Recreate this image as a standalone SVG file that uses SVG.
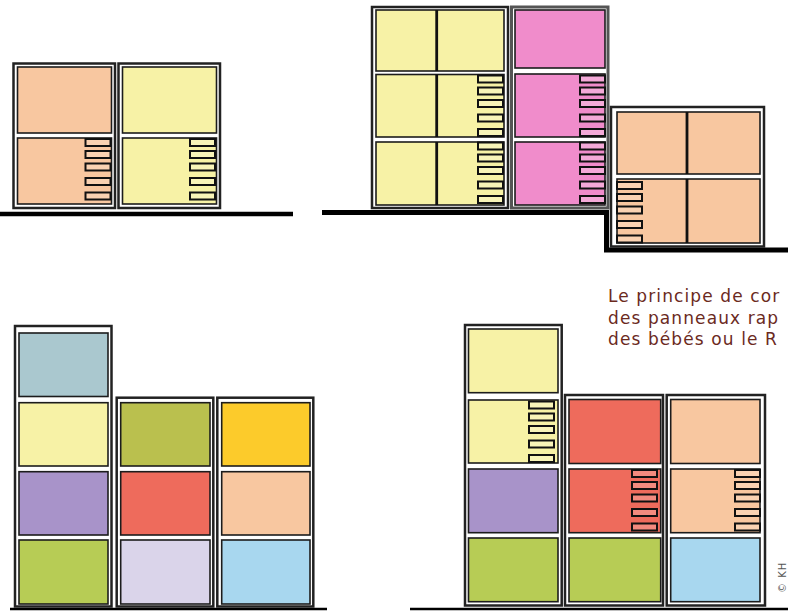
<svg xmlns="http://www.w3.org/2000/svg" xmlns:xlink="http://www.w3.org/1999/xlink" width="788" height="611" viewBox="0 0 788 611">
<style>
.frame{fill:#fff;stroke:#222;stroke-width:2.5}
.pink-frame{fill:#fff;stroke:#555;stroke-width:3}
.panel{stroke:#1c1c1c;stroke-width:1.6}
.div{stroke:#111;stroke-width:2.8}
.ground{fill:none;stroke:#000;stroke-linecap:butt}
.peach{fill:#f8c7a0}
.yellow{fill:#f7f2a6}
.pink{fill:#f08ccb}
.blue-gray{fill:#aac8cf}
.lav{fill:#a893c9}
.green{fill:#b7cc55}
.olive{fill:#bac04e}
.red{fill:#ee6b5c}
.lilac{fill:#dad4ea}
.gold{fill:#fccb2b}
.sky{fill:#a8d7ef}
.caption{font-family:"DejaVu Sans","Liberation Sans",sans-serif;font-size:17px;fill:#6b2a1e;letter-spacing:1.1px}
.credit{font-family:"DejaVu Sans","Liberation Sans",sans-serif;font-size:10px;fill:#555;letter-spacing:1px}
</style>
<defs>
<g id="slats" stroke="#111" stroke-width="2">
<rect x="0" y="1.5" width="25" height="7"/>
<rect x="0" y="13.5" width="25" height="7"/>
<rect x="0" y="26" width="25" height="7"/>
<rect x="0" y="40.5" width="25" height="7"/>
<rect x="0" y="55" width="25" height="7"/>
</g>
</defs>

<g id="connectors">
<path class="ground" stroke-width="4.5" d="M0,214 H293"/>
<path class="ground" stroke-width="5" d="M322,212.5 H606.5 V250 H788"/>
<path class="ground" stroke-width="2.5" d="M10,609 H327"/>
<path class="ground" stroke-width="2.5" d="M410,609 H788"/>
</g>

<!-- Top-left -->
<g id="tl-box1">
<rect class="frame" x="13.5" y="63.5" width="101.5" height="144.5"/>
<rect class="panel peach" x="17.5" y="67" width="94" height="66"/>
<rect class="panel peach" x="17.5" y="138" width="94" height="66"/>
<use xlink:href="#slats" x="85.5" y="137.5" fill="#fad2b2"/>
</g>
<g id="tl-box2">
<rect class="frame" x="118.5" y="63.5" width="101.5" height="144.5"/>
<rect class="panel yellow" x="122.5" y="67" width="94" height="66"/>
<rect class="panel yellow" x="122.5" y="138" width="94" height="66"/>
<use xlink:href="#slats" x="190" y="137.5" fill="#f8f4b8"/>
</g>

<!-- Top-middle -->
<g id="tm-yellow">
<rect class="frame" x="372" y="7" width="136" height="201"/>
<rect class="panel yellow" x="376" y="10" width="128" height="61"/>
<rect class="panel yellow" x="376" y="74.5" width="128" height="62.5"/>
<rect class="panel yellow" x="376" y="142" width="128" height="63"/>
<line class="div" x1="436.7" y1="10" x2="436.7" y2="71"/>
<line class="div" x1="436.7" y1="74.5" x2="436.7" y2="137"/>
<line class="div" x1="436.7" y1="142" x2="436.7" y2="205"/>
<use xlink:href="#slats" x="478" y="74" fill="#f8f4b8"/>
<use xlink:href="#slats" x="478" y="141" fill="#f8f4b8"/>
</g>
<g id="tm-pink">
<rect class="pink-frame" x="511.5" y="7" width="96.5" height="201"/>
<rect class="panel pink" x="515" y="10" width="90" height="58"/>
<rect class="panel pink" x="515" y="74" width="90" height="63"/>
<rect class="panel pink" x="515" y="142" width="90" height="63"/>
<use xlink:href="#slats" x="580" y="74" fill="#f4a9d8"/>
<use xlink:href="#slats" x="580" y="141" fill="#f4a9d8"/>
</g>
<g id="tr-peach">
<rect class="frame" x="611" y="107" width="153" height="139.5"/>
<rect class="panel peach" x="617" y="112" width="143" height="62"/>
<rect class="panel peach" x="617" y="179" width="143" height="64"/>
<line class="div" x1="687" y1="112" x2="687" y2="174"/>
<line class="div" x1="687" y1="179" x2="687" y2="243"/>
<use xlink:href="#slats" x="617" y="180.5" fill="#fad2b2"/>
</g>

<!-- Caption -->
<g id="caption">
<text class="caption" x="608" y="302">Le principe de cor</text>
<text class="caption" x="608" y="323.5">des panneaux rap</text>
<text class="caption" x="608" y="345">des bébés ou le R</text>
</g>

<!-- Bottom-left -->
<g id="bl-col1">
<rect class="frame" x="15" y="326" width="96.5" height="280.5"/>
<rect class="panel blue-gray" x="19" y="333" width="89" height="63.5"/>
<rect class="panel yellow" x="19" y="402.7" width="89" height="63.3"/>
<rect class="panel lav" x="19" y="471.7" width="89" height="63.3"/>
<rect class="panel green" x="19" y="540" width="89" height="64"/>
</g>
<g id="bl-col2">
<rect class="frame" x="116.7" y="397.7" width="96.6" height="208.8"/>
<rect class="panel olive" x="120.7" y="402.7" width="89.3" height="63.3"/>
<rect class="panel red" x="120.7" y="471.7" width="89.3" height="63.3"/>
<rect class="panel lilac" x="120.7" y="540" width="89.3" height="64"/>
</g>
<g id="bl-col3">
<rect class="frame" x="217.3" y="397.7" width="96" height="208.8"/>
<rect class="panel gold" x="221.7" y="402.7" width="88.3" height="63.3"/>
<rect class="panel peach" x="221.7" y="471.7" width="88.3" height="63.3"/>
<rect class="panel sky" x="221.7" y="540" width="88.3" height="64"/>
</g>

<!-- Bottom-right -->
<g id="br-col1">
<rect class="frame" x="465" y="325" width="96.7" height="280.5"/>
<rect class="panel yellow" x="468.5" y="329" width="89.5" height="63.7"/>
<rect class="panel yellow" x="468.5" y="400" width="89.5" height="63"/>
<rect class="panel lav" x="468.5" y="469" width="89.5" height="63.7"/>
<rect class="panel green" x="468.5" y="538" width="89.5" height="63.7"/>
<use xlink:href="#slats" x="529" y="400" fill="#f8f4b8"/>
</g>
<g id="br-col2">
<rect class="frame" x="565" y="395" width="98" height="210.5"/>
<rect class="panel red" x="569" y="399.5" width="91.7" height="64"/>
<rect class="panel red" x="569" y="469" width="91.7" height="63.7"/>
<rect class="panel green" x="569" y="538" width="91.7" height="63.7"/>
<use xlink:href="#slats" x="632" y="468.5" fill="#f28a7e"/>
</g>
<g id="br-col3">
<rect class="frame" x="666.7" y="395" width="98.3" height="210.5"/>
<rect class="panel peach" x="670.7" y="399.5" width="89.3" height="64"/>
<rect class="panel peach" x="670.7" y="469" width="89.3" height="63.7"/>
<rect class="panel sky" x="670.7" y="538" width="89.3" height="63.7"/>
<use xlink:href="#slats" x="735" y="468.5" fill="#fad2b2"/>
</g>

<g id="credit">
<text class="credit" transform="translate(785.5,593) rotate(-90)">© KH</text>
</g>
</svg>
